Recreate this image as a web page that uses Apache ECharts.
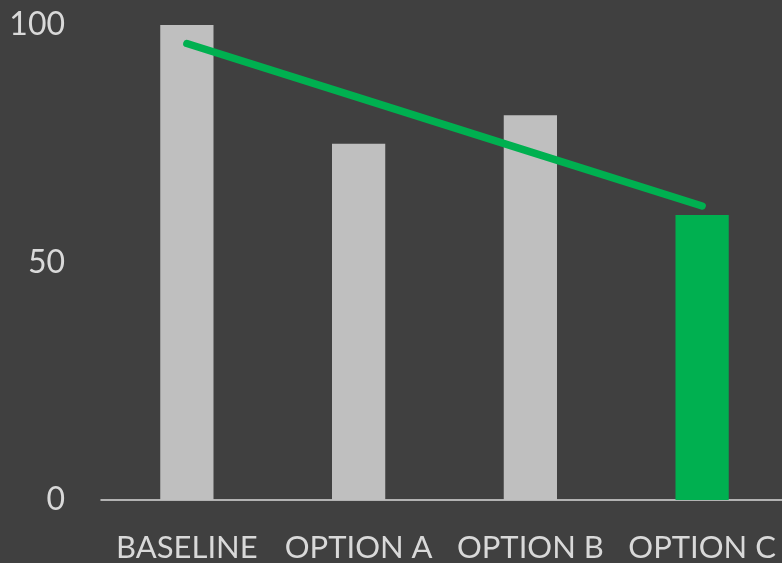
<!DOCTYPE html>
<html>
<head>
<meta charset="utf-8">
<script src="https://cdn.jsdelivr.net/npm/echarts@6/dist/echarts.min.js"></script>
<style>
html,body{margin:0;padding:0;background:#404040;}
#c{width:782px;height:563px;}
</style>
</head>
<body>
<div id="c"></div>
<script>
var categories = ['BASELINE', 'OPTION A', 'OPTION B', 'OPTION C'];
var barValues = [100, 75, 81, 60];
var trendValues = [96.1, 84.7, 73.3, 61.9];
var yTicks = [0, 50, 100];

var gray = '#bfbfbf', green = '#00b050', textColor = '#d9d9d9';

var chart = echarts.init(document.getElementById('c'));
chart.setOption({
  backgroundColor: '#404040',
  animation: false,
  grid: { left: 101, top: 25, right: -6, bottom: 63, containLabel: false, outerBoundsMode: 'none' },
  xAxis: {
    type: 'category',
    data: categories,
    axisLine: { show: true, lineStyle: { color: textColor, width: 1.5 } },
    axisTick: { show: false },
    axisLabel: { color: textColor, fontFamily: 'Lato', fontSize: 31, margin: 32, interval: 0, hideOverlap: false }
  },
  yAxis: {
    type: 'value',
    min: yTicks[0], max: yTicks[yTicks.length - 1], interval: 50,
    splitLine: { show: false },
    axisLine: { show: false },
    axisTick: { show: false },
    axisLabel: { color: textColor, fontFamily: 'Lato', fontSize: 32, margin: 36 }
  },
  series: [
    {
      type: 'bar',
      barWidth: '31%',
      data: barValues.map(function (v, i) {
        return { value: v, itemStyle: { color: i === barValues.length - 1 ? green : gray } };
      })
    },
    {
      type: 'line',
      data: trendValues,
      symbol: 'none',
      lineStyle: { color: green, width: 7.5, cap: 'round' },
      z: 5
    }
  ]
});
</script>
</body>
</html>
